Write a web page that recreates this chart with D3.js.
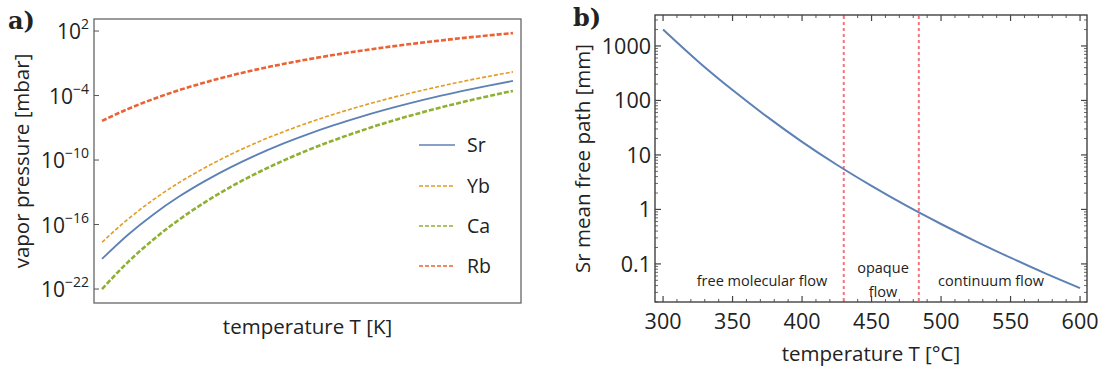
<!DOCTYPE html>
<html>
<head>
<meta charset="utf-8">
<script src="https://cdn.jsdelivr.net/npm/d3@7"></script>
<style>
  body { margin: 0; background: #fff; }
  svg text { font-family: "Open Sans", "Noto Sans", sans-serif; fill: #222; }
</style>
</head>
<body>
<div id="chart"></div>
<script>
// ---------------------------------------
// data: panel a (log10 of vapor pressure in mbar)
// ---------------------------------------
const tempK = [300, 325, 350, 375, 400, 425, 450, 475, 500, 525, 550, 575, 600, 625, 650, 675, 700];
const srLog = [-19.20, -16.97, -15.06, -13.40, -11.96, -10.68, -9.54, -8.52, -7.61, -6.78, -6.03, -5.34, -4.71, -4.13, -3.60, -3.10, -2.64];
const ybLog = [-17.65, -15.52, -13.69, -12.10, -10.72, -9.49, -8.40, -7.43, -6.56, -5.76, -5.04, -4.38, -3.78, -3.23, -2.71, -2.24, -1.80];
const caLog = [-22.00, -19.52, -17.39, -15.55, -13.94, -12.51, -11.25, -10.12, -9.10, -8.18, -7.34, -6.57, -5.87, -5.23, -4.63, -4.08, -3.57];
const rbLog = [-6.36, -5.26, -4.32, -3.50, -2.79, -2.15, -1.59, -1.09, -0.64, -0.23, 0.14, 0.48, 0.79, 1.07, 1.34, 1.58, 1.81];
const speciesNames = ["Sr", "Yb", "Ca", "Rb"];
const pressureTicks = [2, -4, -10, -16, -22];

// ---------------------------------------
// data: panel b (Sr mean free path in mm)
// ---------------------------------------
const tempC = [300, 325, 350, 375, 400, 425, 450, 475, 500, 525, 550, 575, 600];
const mfpMM = [2000, 525, 155, 50, 17.4, 6.6, 2.7, 1.17, 0.54, 0.26, 0.13, 0.067, 0.036];
const regimeBounds = [430, 484];
const tempTicks = [300, 350, 400, 450, 500, 550, 600];
const mfpTicks = [0.1, 1, 10, 100, 1000];

const colors = { Sr: "#5E81B5", Yb: "#E19C24", Ca: "#8FB032", Rb: "#EB6235" };
const styles = {
  Sr: { w: 1.8, dash: null },
  Yb: { w: 1.6, dash: "4,2" },
  Ca: { w: 2.6, dash: "5,2" },
  Rb: { w: 2.6, dash: "5,2" }
};

const width = 1109, height = 374;
const svg = d3.select("#chart").append("svg")
  .attr("width", width).attr("height", height);

// =======================================
// Panel a
// =======================================
const ax = { left: 94, right: 521, top: 19, bottom: 303 };
const xA = d3.scaleLinear().domain([292.2, 707.8]).range([ax.left, ax.right]);
const yA = d3.scaleLinear().domain([-23.3, 3.12]).range([ax.bottom, ax.top]);

const gA = svg.append("g");

gA.append("rect")
  .attr("x", ax.left).attr("y", ax.top)
  .attr("width", ax.right - ax.left).attr("height", ax.bottom - ax.top)
  .attr("fill", "none").attr("stroke", "#666").attr("stroke-width", 1.3);

// left ticks only
pressureTicks.forEach(p => {
  gA.append("line")
    .attr("x1", ax.left).attr("x2", ax.left + 5)
    .attr("y1", yA(p)).attr("y2", yA(p))
    .attr("stroke", "#555").attr("stroke-width", 1);
  const t = gA.append("text")
    .attr("x", ax.left - 5).attr("y", yA(p) + 8)
    .attr("text-anchor", "end")
    .style("font-size", "21px");
  t.append("tspan").text("10");
  t.append("tspan").attr("dy", -10).style("font-size", "14px")
    .text(p < 0 ? "\u2212" + Math.abs(p) : p);
});

const seriesA = { Sr: srLog, Yb: ybLog, Ca: caLog, Rb: rbLog };
const lineA = d3.line().x(d => xA(d[0])).y(d => yA(d[1])).curve(d3.curveMonotoneX);

// draw order: Sr, Yb, Ca, Rb
speciesNames.forEach(name => {
  const pts = tempK.map((t, i) => [t, seriesA[name][i]]);
  gA.append("path")
    .datum(pts)
    .attr("d", lineA)
    .attr("fill", "none")
    .attr("stroke", colors[name])
    .attr("stroke-width", styles[name].w)
    .attr("stroke-dasharray", styles[name].dash);
});

// legend
const legendY = [145, 186, 226, 266];
speciesNames.forEach((name, i) => {
  gA.append("line")
    .attr("x1", 419).attr("x2", 455)
    .attr("y1", legendY[i]).attr("y2", legendY[i])
    .attr("stroke", colors[name])
    .attr("stroke-width", 1.6)
    .attr("stroke-dasharray", name === "Sr" ? null : "4,2");
  gA.append("text")
    .attr("x", 467).attr("y", legendY[i] + 7)
    .style("font-size", "19.5px")
    .text(name);
});

gA.append("text")
  .attr("x", (ax.left + ax.right) / 2).attr("y", 334)
  .attr("text-anchor", "middle")
  .style("font-size", "20.5px")
  .text("temperature T [K]");

gA.append("text")
  .attr("transform", `translate(29,${(ax.top + ax.bottom) / 2}) rotate(-90)`)
  .attr("text-anchor", "middle")
  .style("font-size", "20.5px")
  .text("vapor pressure [mbar]");

svg.append("text")
  .attr("x", 8).attr("y", 29)
  .style("font-family", "'DejaVu Serif', serif")
  .style("font-weight", "bold")
  .style("font-size", "24px")
  .text("a)");

// =======================================
// Panel b
// =======================================
const bx = { left: 655, right: 1087, top: 15, bottom: 302 };
const xB = d3.scaleLinear().domain([294.2, 605]).range([bx.left, bx.right]);
const yB = d3.scaleLog().domain([0.02, 3700]).range([bx.bottom, bx.top]);

const gB = svg.append("g");

gB.append("rect")
  .attr("x", bx.left).attr("y", bx.top)
  .attr("width", bx.right - bx.left).attr("height", bx.bottom - bx.top)
  .attr("fill", "none").attr("stroke", "#333").attr("stroke-width", 1.3);

// x ticks (major 50, minor 10) bottom & top
d3.range(300, 601, 10).forEach(t => {
  const major = t % 50 === 0;
  const len = major ? 6 : 3;
  [[bx.bottom, -len], [bx.top, len]].forEach(([y0, dl]) => {
    gB.append("line")
      .attr("x1", xB(t)).attr("x2", xB(t))
      .attr("y1", y0).attr("y2", y0 + dl)
      .attr("stroke", "#444").attr("stroke-width", major ? 1.2 : 0.9);
  });
});
tempTicks.forEach(t => {
  gB.append("text")
    .attr("x", xB(t)).attr("y", 329)
    .attr("text-anchor", "middle")
    .style("font-size", "21.5px")
    .text(t);
});

// y ticks (decades + minor) left & right
const minorY = [];
[0.01, 0.1, 1, 10, 100, 1000].forEach(dec => {
  for (let k = 1; k < 10; k++) {
    const v = dec * k;
    if (v >= 0.02 && v <= 3700) minorY.push({ v, major: k === 1 });
  }
});
minorY.forEach(({ v, major }) => {
  const len = major ? 6 : 3;
  [[bx.left, len], [bx.right, -len]].forEach(([x0, dl]) => {
    gB.append("line")
      .attr("x1", x0).attr("x2", x0 + dl)
      .attr("y1", yB(v)).attr("y2", yB(v))
      .attr("stroke", "#444").attr("stroke-width", major ? 1.2 : 0.8);
  });
});
mfpTicks.forEach(v => {
  gB.append("text")
    .attr("x", bx.left - 4).attr("y", yB(v) + 8)
    .attr("text-anchor", "end")
    .style("font-size", "21.5px")
    .text(v);
});

// regime boundaries
regimeBounds.forEach(t => {
  gB.append("line")
    .attr("x1", xB(t)).attr("x2", xB(t))
    .attr("y1", bx.top + 1).attr("y2", bx.bottom - 1)
    .attr("stroke", "#F2767E").attr("stroke-width", 2)
    .attr("stroke-dasharray", "3,3");
});

const lineB = d3.line().x(d => xB(d[0])).y(d => yB(d[1])).curve(d3.curveMonotoneX);
gB.append("path")
  .datum(tempC.map((t, i) => [t, mfpMM[i]]))
  .attr("d", lineB)
  .attr("fill", "none")
  .attr("stroke", colors.Sr)
  .attr("stroke-width", 2);

// regime labels
const regimeLabels = [
  { text: "free molecular flow", x: 762, y: 286 },
  { text: "opaque", x: 883, y: 273 },
  { text: "flow", x: 883, y: 297 },
  { text: "continuum flow", x: 991, y: 286 }
];
regimeLabels.forEach(d => {
  gB.append("text")
    .attr("x", d.x).attr("y", d.y)
    .attr("text-anchor", "middle")
    .style("font-size", "14.5px")
    .text(d.text);
});

gB.append("text")
  .attr("x", (bx.left + bx.right) / 2).attr("y", 361)
  .attr("text-anchor", "middle")
  .style("font-size", "20.5px")
  .text("temperature T [°C]");

gB.append("text")
  .attr("transform", `translate(590,${(bx.top + bx.bottom) / 2}) rotate(-90)`)
  .attr("text-anchor", "middle")
  .style("font-size", "20.5px")
  .text("Sr mean free path [mm]");

svg.append("text")
  .attr("x", 573).attr("y", 26)
  .style("font-family", "'DejaVu Serif', serif")
  .style("font-weight", "bold")
  .style("font-size", "24px")
  .text("b)");
</script>
</body>
</html>
